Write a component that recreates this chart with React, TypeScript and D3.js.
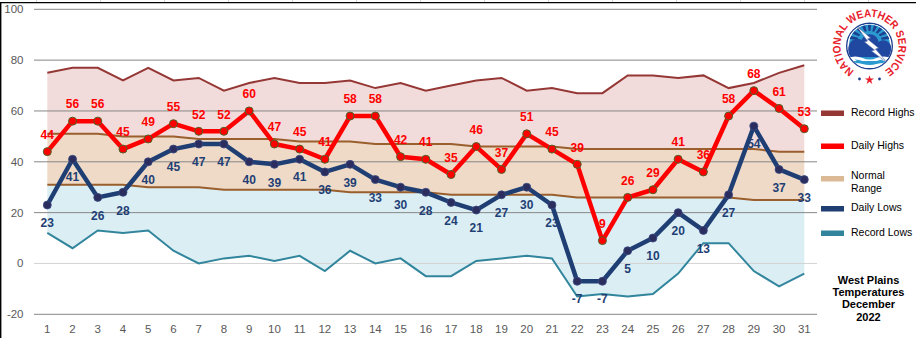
import React from "react";
import * as d3 from "d3";

const days = d3.range(1, 32);
const dailyHighs = [44, 56, 56, 45, 49, 55, 52, 52, 60, 47, 45, 41, 58, 58, 42, 41, 35, 46, 37, 51, 45, 39, 9, 26, 29, 41, 36, 58, 68, 61, 53];
const dailyLows = [23, 41, 26, 28, 40, 45, 47, 47, 40, 39, 41, 36, 39, 33, 30, 28, 24, 21, 27, 30, 23, -7, -7, 5, 10, 20, 13, 27, 54, 37, 33];
const recordHighs = [75, 77, 77, 72, 77, 72, 73, 68, 71, 73, 71, 71, 72, 69, 71, 68, 70, 72, 73, 68, 69, 67, 67, 74, 74, 73, 74, 69, 71, 75, 78];
const normalHighs = [51, 51, 51, 50, 50, 50, 49, 49, 49, 49, 48, 48, 48, 47, 47, 47, 47, 46, 46, 46, 46, 45, 45, 45, 45, 45, 45, 45, 45, 44, 44];
const normalLows = [31, 31, 31, 31, 30, 30, 30, 29, 29, 29, 29, 29, 28, 28, 28, 28, 27, 27, 27, 27, 27, 26, 26, 26, 26, 26, 26, 26, 25, 25, 25];
const recordLows = [12, 6, 13, 12, 13, 5, 0, 2, 3, 1, 3, -3, 5, 0, 2, -5, -5, 1, 2, 3, 2, -13, -12, -13, -12, -4, 8, 8, -3, -9, -4];
const yTicks = [-20, 0, 20, 40, 60, 80, 100];
const titleLines = ["West Plains", "Temperatures", "December", "2022"];

const W = 916;
const H = 338;

const x = d3.scaleLinear().domain([1, 31]).range([47.3, 804.3]);
const y = d3.scaleLinear().domain([-20, 100]).range([314.3, 9.3]);

const band = (lo: number[], hi: number[]) =>
  d3
    .area<number>()
    .x((d) => x(d))
    .y0((d, i) => y(lo[i]))
    .y1((d, i) => y(hi[i]))(days) as string;

const line = (vals: number[]) =>
  d3
    .line<number>()
    .x((d) => x(d))
    .y((d, i) => y(vals[i]))(days) as string;

const font = "'Liberation Sans', Arial, sans-serif";

function Logo() {
  const cx = 869.5;
  const cy = 46;
  const r = 29;
  const a0 = (-150 * Math.PI) / 180;
  const a1 = (150 * Math.PI) / 180;
  const p0 = [cx + r * Math.sin(a0), cy - r * Math.cos(a0)];
  const p1 = [cx + r * Math.sin(a1), cy - r * Math.cos(a1)];
  const arc = `M${p0[0]},${p0[1]} A${r},${r} 0 1 1 ${p1[0]},${p1[1]}`;
  const ir = 22;
  const rays = d3.range(-66, 70, 16.5).map((deg) => {
    const a = (deg * Math.PI) / 180;
    const w = (4.5 * Math.PI) / 180;
    const r1 = ir - 1;
    const r0 = 13;
    return `M${cx + r0 * Math.sin(a - w)},${cy - 2 - r0 * Math.cos(a - w)} L${cx + r1 * Math.sin(a - w)},${cy - r1 * Math.cos(a - w)} L${cx + r1 * Math.sin(a + w)},${cy - r1 * Math.cos(a + w)} L${cx + r0 * Math.sin(a + w)},${cy - 2 - r0 * Math.cos(a + w)} Z`;
  });
  return (
    <g>
      <defs>
        <path id="nwsArc" d={arc} />
        <clipPath id="innerClip">
          <circle cx={cx} cy={cy} r={ir} />
        </clipPath>
      </defs>
      <text fontFamily={font} fontWeight="bold" fontSize={11} fill="#e8202a">
        <textPath href="#nwsArc" startOffset="50%" textAnchor="middle" textLength={150} lengthAdjust="spacingAndGlyphs">
          NATIONAL WEATHER SERVICE
        </textPath>
      </text>
      <circle cx={cx} cy={cy} r={ir + 0.8} fill="#ffffff" stroke="#1d3f8f" strokeWidth={1.4} />
      <g clipPath="url(#innerClip)">
        <rect x={cx - ir} y={cy - ir} width={ir * 2} height={ir * 2} fill="#ffffff" />
        <circle cx={cx} cy={cy - 1} r={ir - 1.5} fill="#2a9ad0" />
        {rays.map((d, i) => (
          <path key={i} d={d} fill="#1d3f8f" />
        ))}
        <path
          d={`M${cx - 21},${cy + 7} C${cx - 23},${cy - 3} ${cx - 15},${cy - 10} ${cx - 8},${cy - 6} C${cx - 4},${cy - 15} ${cx + 8},${cy - 13} ${cx + 9},${cy - 4} C${cx + 16},${cy - 9} ${cx + 25},${cy - 2} ${cx + 21},${cy + 8} Z`}
          fill="#2148a0"
        />
        <rect x={cx - ir} y={cy + 6} width={ir * 2} height={5} fill="#2148a0" />
        <path
          d={`M${cx - ir},${cy + 12} Q${cx - 14},${cy + 9} ${cx - 7},${cy + 12} T${cx + 7},${cy + 12} T${cx + ir},${cy + 12} L${cx + ir},${cy + 15} Q${cx + 14},${cy + 12} ${cx + 7},${cy + 15} T${cx - 7},${cy + 15} T${cx - ir},${cy + 15} Z`}
          fill="#ffffff"
        />
        <rect x={cx - ir} y={cy + 15} width={ir * 2} height={3.5} fill="#2a9ad0" />
        <path
          d={`M${cx - ir},${cy + 18} Q${cx - 14},${cy + 16} ${cx - 7},${cy + 18} T${cx + 7},${cy + 18} T${cx + ir},${cy + 18} L${cx + ir},${cy + ir} L${cx - ir},${cy + ir} Z`}
          fill="#ffffff"
        />
        <path
          d={`M${cx - 13},${cy - 20} L${cx + 1},${cy - 8} L${cx - 2},${cy - 7} L${cx + 9},${cy + 2} L${cx + 6},${cy + 3} L${cx + 18},${cy + 17} L${cx + 2},${cy + 5} L${cx + 5},${cy + 4} L${cx - 5},${cy - 4} L${cx - 2},${cy - 5} Z`}
          fill="#ffffff"
          stroke="#5a6fa8"
          strokeWidth={0.6}
        />
      </g>
      <circle cx={cx - 10} cy={cy + 33} r={1.4} fill="#1d3f8f" />
      <circle cx={cx + 10} cy={cy + 33} r={1.4} fill="#1d3f8f" />
      <path
        d={d3.symbol(d3.symbolStar, 26)() as string}
        transform={`translate(${cx},${cy + 34})`}
        fill="#e8202a"
      />
    </g>
  );
}

export default function App() {
  const colLines = d3.range(36.5, W, 64);
  const legend = [
    { label: ["Record Highs"], color: "#953735", sy: 110.5, ty: 112 },
    { label: ["Daily Highs"], color: "#ff0000", sy: 143.5, ty: 145 },
    { label: ["Normal", "Range"], color: "#dcb995", sy: 176, ty: 175.5 },
    { label: ["Daily Lows"], color: "#1f3f74", sy: 206, ty: 207 },
    { label: ["Record Lows"], color: "#31849b", sy: 230.5, ty: 232 },
  ];
  return (
    <svg
      width={W}
      height={H}
      style={{ position: "absolute", left: 0, top: 0, background: "#ffffff" }}
      fontFamily={font}
    >
      <rect x={0} y={0} width={W} height={H} fill="#ffffff" />
      {colLines.map((cx, i) => (
        <line key={i} x1={cx} x2={cx} y1={0} y2={2} stroke="#d0d0d0" strokeWidth={1} />
      ))}
      <line x1={0} x2={W} y1={2.6} y2={2.6} stroke="#000000" strokeWidth={1.4} />
      <line x1={0.7} x2={0.7} y1={2} y2={H} stroke="#000000" strokeWidth={1.4} />

      {/* bands */}
      <path d={band(normalHighs, recordHighs)} fill="#f2dcdb" />
      <path d={band(normalLows, normalHighs)} fill="#eedac7" />
      <path d={band(recordLows, normalLows)} fill="#dbeef4" />

      {/* gridlines */}
      {yTicks.map((t) => (
        <g key={t}>
          <line
            x1={34}
            x2={817}
            y1={y(t)}
            y2={y(t)}
            stroke={t === 0 ? "#d4d4d4" : "#878787"}
            strokeWidth={1}
          />
          <text x={23.5} y={y(t)} dy="0.35em" textAnchor="end" fontSize={11.5} fill="#595959">
            {t}
          </text>
        </g>
      ))}
      {days.map((d) => (
        <text key={d} x={x(d)} y={333} textAnchor="middle" fontSize={11.5} fill="#595959">
          {d}
        </text>
      ))}

      {/* reference lines */}
      <path d={line(recordHighs)} fill="none" stroke="#953735" strokeWidth={2} />
      <path d={line(normalHighs)} fill="none" stroke="#9a5f2c" strokeWidth={2} />
      <path d={line(normalLows)} fill="none" stroke="#9a5f2c" strokeWidth={2} />
      <path d={line(recordLows)} fill="none" stroke="#31859c" strokeWidth={2} />

      {/* daily lows */}
      <path d={line(dailyLows)} fill="none" stroke="#1f3f74" strokeWidth={4.5} strokeLinejoin="round" />
      {days.map((d, i) => (
        <circle key={d} cx={x(d)} cy={y(dailyLows[i])} r={4} fill="#2b2d5e" stroke="#3a4a80" strokeWidth={0.8} />
      ))}

      {/* daily highs */}
      <path d={line(dailyHighs)} fill="none" stroke="#ff0000" strokeWidth={4.5} strokeLinejoin="round" />
      {days.map((d, i) => (
        <circle key={d} cx={x(d)} cy={y(dailyHighs[i])} r={4} fill="#ff0000" stroke="#4f6228" strokeWidth={1} />
      ))}

      {/* labels */}
      {days.map((d, i) => (
        <text
          key={"h" + d}
          x={x(d)}
          y={y(dailyHighs[i]) - 17}
          dy="0.35em"
          textAnchor="middle"
          fontSize={12}
          fontWeight="bold"
          fill="#ff0000"
        >
          {dailyHighs[i]}
        </text>
      ))}
      {days.map((d, i) => (
        <text
          key={"l" + d}
          x={x(d)}
          y={y(dailyLows[i]) + 18}
          dy="0.35em"
          textAnchor="middle"
          fontSize={12}
          fontWeight="bold"
          fill="#1f3f74"
        >
          {dailyLows[i]}
        </text>
      ))}

      {/* legend */}
      {legend.map((l) => (
        <g key={l.label[0]}>
          <rect x={821} y={l.sy} width={23} height={5.5} fill={l.color} />
          {l.label.map((s, j) => (
            <text key={s} x={851} y={l.ty + j * 12.7} dy="0.35em" fontSize={10.5} fill="#000000">
              {s}
            </text>
          ))}
        </g>
      ))}

      {/* title */}
      {titleLines.map((s, i) => (
        <text
          key={s}
          x={868.5}
          y={280 + i * 12.3}
          dy="0.35em"
          textAnchor="middle"
          fontSize={11}
          fontWeight="bold"
          fill="#000000"
        >
          {s}
        </text>
      ))}

      <Logo />
    </svg>
  );
}
